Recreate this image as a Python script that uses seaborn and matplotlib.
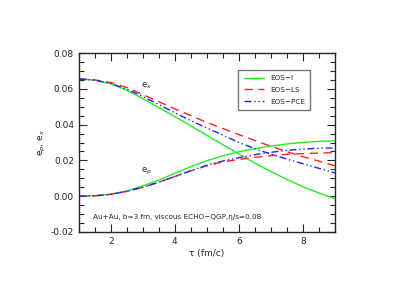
import numpy as np
import pandas as pd
import matplotlib
matplotlib.use("Agg")
import matplotlib.pyplot as plt
from matplotlib.ticker import MultipleLocator, FormatStrFormatter
import seaborn as sns

# Данные
tau = [1.0, 1.5, 2.0, 2.5, 3.0, 3.5, 4.0, 4.5, 5.0, 5.5, 6.0, 6.5, 7.0, 7.5, 8.0, 8.5, 9.0]

ex_eos1 = [0.0655, 0.0648, 0.0628, 0.0592, 0.0545, 0.0495, 0.0445, 0.0393, 0.0340,
           0.0288, 0.0236, 0.0185, 0.0138, 0.0094, 0.0053, 0.0018, -0.0013]
ex_ls = [0.0655, 0.0650, 0.0635, 0.0607, 0.0568, 0.0528, 0.0488, 0.0450, 0.0412,
         0.0378, 0.0344, 0.0311, 0.0279, 0.0249, 0.0221, 0.0196, 0.0170]
ex_pce = [0.0655, 0.0648, 0.0630, 0.0598, 0.0557, 0.0512, 0.0466, 0.0422, 0.0381,
          0.0341, 0.0300, 0.0266, 0.0235, 0.0207, 0.0181, 0.0156, 0.0130]

ep_eos1 = [0.0, 0.0003, 0.0012, 0.0030, 0.0058, 0.0090, 0.0128, 0.0165, 0.0198,
           0.0226, 0.0248, 0.0266, 0.0280, 0.0292, 0.0300, 0.0306, 0.0310]
ep_ls = [0.0, 0.0002, 0.0010, 0.0027, 0.0050, 0.0078, 0.0110, 0.0142, 0.0170,
         0.0192, 0.0205, 0.0217, 0.0227, 0.0234, 0.0238, 0.0241, 0.0243]
ep_pce = [0.0, 0.0002, 0.0010, 0.0027, 0.0050, 0.0078, 0.0110, 0.0143, 0.0173,
          0.0197, 0.0215, 0.0232, 0.0245, 0.0256, 0.0263, 0.0268, 0.0270]

labels = ["EOS\u2212I", "EOS\u2212LS", "EOS\u2212PCE"]
colors = ["#22ee22", "#ff2222", "#2222ff"]
dashes = ["-", (0, (6, 4)), (0, (5, 2, 1, 2, 1, 2))]

sns.set_style("ticks")
plt.rcParams['font.family'] = ['DejaVu Sans']

fig = plt.figure(figsize=(4.15, 2.85), dpi=100)
ax = fig.add_axes([0.190, 0.186, 0.617, 0.628])

ex_all = [ex_eos1, ex_ls, ex_pce]
ep_all = [ep_eos1, ep_ls, ep_pce]
for i in range(3):
    df = pd.DataFrame({"tau": tau, "ex": ex_all[i], "ep": ep_all[i]})
    sns.lineplot(data=df, x="tau", y="ex", ax=ax, color=colors[i], lw=1.0,
                 linestyle=dashes[i], label=labels[i])
    sns.lineplot(data=df, x="tau", y="ep", ax=ax, color=colors[i], lw=1.0,
                 linestyle=dashes[i])

ax.set_xlim(1, 9)
ax.set_ylim(-0.02, 0.08)
ax.xaxis.set_major_locator(MultipleLocator(2))
ax.xaxis.set_minor_locator(MultipleLocator(0.5))
ax.yaxis.set_major_locator(MultipleLocator(0.02))
ax.yaxis.set_minor_locator(MultipleLocator(0.005))
ax.yaxis.set_major_formatter(FormatStrFormatter("%.2f"))
ax.tick_params(which="both", direction="in", top=True, right=True, labelsize=6.5, width=0.8)
ax.tick_params(which="major", length=6)
ax.tick_params(which="minor", length=3.5)
for s in ax.spines.values():
    s.set_linewidth(1.0)

ax.set_xlabel("\u03c4 (fm/c)", fontsize=6.5, labelpad=2)
ax.set_ylabel("e$_p$, e$_x$", fontsize=6.5)
ax.yaxis.set_label_coords(-0.12, 0.5)

ax.text(2.95, 0.0585, "e$_x$", fontsize=6, ha="left", va="bottom")
ax.text(2.95, 0.0108, "e$_p$", fontsize=6, ha="left", va="bottom")
ax.text(1.45, -0.0115, "Au+Au, b=3 fm, viscous ECHO\u2212QGP,\u03b7/s=0.08", fontsize=5.2,
        ha="left", va="center")

leg = ax.legend(loc="upper right", bbox_to_anchor=(0.918, 0.925), fontsize=5.2,
                frameon=True, fancybox=False, handlelength=2.9, borderpad=0.7,
                labelspacing=0.8, handletextpad=0.8)
leg.get_frame().set_edgecolor("#555555")
leg.get_frame().set_linewidth(1.0)

fig.savefig("out.png", dpi=100)
